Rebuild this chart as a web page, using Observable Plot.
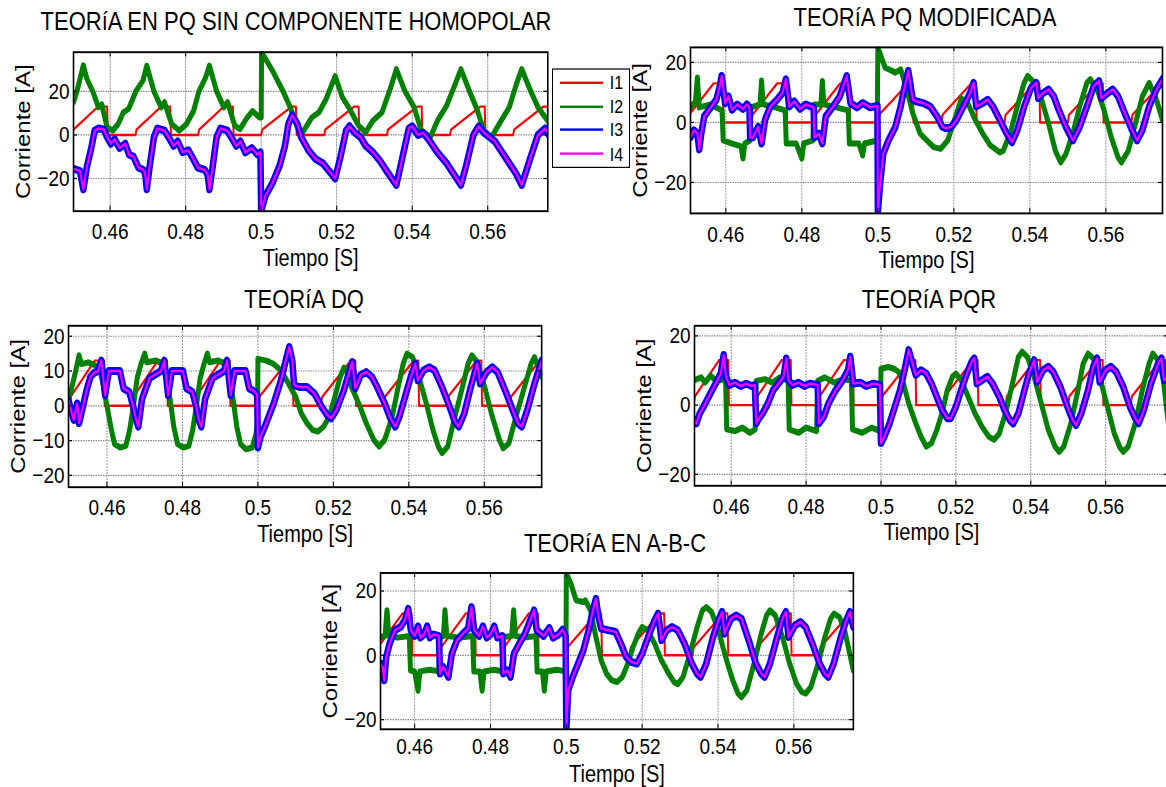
<!DOCTYPE html>
<html>
<head>
<meta charset="utf-8">
<script src="https://cdn.jsdelivr.net/npm/d3@7"></script>
<script src="https://cdn.jsdelivr.net/npm/@observablehq/plot@0.6"></script>
<style>
html, body { margin: 0; padding: 0; background: #fff; width: 1166px; height: 787px; overflow: hidden; }
#fig { position: absolute; left: 0; top: 0; width: 1166px; height: 656px; overflow: hidden;
       transform: scaleY(1.2); transform-origin: 0 0;
       font-family: "Liberation Sans", Arial, Helvetica, sans-serif; color: #000; }
.title { position: absolute; font-size: 22px; line-height: 1; white-space: nowrap; transform: translate(-50%, -50%); }
</style>
</head>
<body>
<div id="fig"></div>
<script>
// ---------------- data ----------------
const xTicks = [0.46, 0.48, 0.5, 0.52, 0.54, 0.56];
const xTickLabels = ["0.46", "0.48", "0.5", "0.52", "0.54", "0.56"];
const seriesNames = ["I1", "I2", "I3", "I4"];
const seriesColors = ["#ff0000", "#008000", "#0000ff", "#ff00ff"];
const titles = ["TEORíA EN PQ SIN COMPONENTE HOMOPOLAR", "TEORíA PQ MODIFICADA", "TEORíA DQ", "TEORíA PQR", "TEORíA EN A-B-C"];
const xLabel = "Tiempo [S]";
const yLabel = "Corriente [A]";

// I1 (red) – same load current in every panel: [time s, current A]
const i1 = [[0.4500,0.5],[0.4503,2.5],[0.4568,13],[0.4592,13],[0.4594,0],
  [0.4667,0],[0.4670,2.5],[0.4735,13],[0.4759,13],[0.4761,0],
  [0.4833,0],[0.4836,2.5],[0.4901,13],[0.4925,13],[0.4927,0],
  [0.5000,0],[0.5003,2.5],[0.5080,13],[0.5092,13],[0.5094,0],
  [0.5167,0],[0.5170,2.5],[0.5246,13],[0.5258,13],[0.5260,0],
  [0.5333,0],[0.5336,2.5],[0.5413,13],[0.5425,13],[0.5427,0],
  [0.5500,0],[0.5503,2.5],[0.5580,13],[0.5592,13],[0.5594,0],
  [0.5667,0],[0.5670,2.5],[0.5747,13],[0.5759,13],[0.5761,0],[0.5770,0]];

// Panel 1 – PQ sin componente homopolar
const p1_i2 = [[0.4503,15],[0.4512,20],[0.4522,27],[0.4529,32],[0.4538,26],[0.4554,20],[0.4569,12.7],[0.4578,14],[0.4592,3.5],[0.4607,2],[0.4621,5],[0.4635,10.4],[0.4649,12],[0.4668,20],[0.4687,25],[0.4697,31.8],[0.4716,20],[0.4735,12.7],[0.4744,15],[0.4763,5],[0.4783,2],[0.4802,5],[0.4821,11],[0.4835,20],[0.4852,26],[0.4863,31.8],[0.4882,20],[0.4901,12.7],[0.4911,15],[0.4930,4.3],[0.4944,2.7],[0.4963,8],[0.4977,11],[0.4996,8],[0.5000,8],[0.5001,38],[0.5030,29.5],[0.5058,20],[0.5077,12.7],[0.5096,3.5],[0.5110,1.2],[0.5134,8],[0.5153,10.4],[0.5172,16.5],[0.5196,27],[0.5215,17.3],[0.5234,12],[0.5258,4.3],[0.5277,1.2],[0.5296,6.6],[0.5320,10.4],[0.5343,21.8],[0.5358,30.2],[0.5381,20],[0.5405,12.7],[0.5424,2],[0.5448,-1],[0.5467,6.6],[0.5491,13.4],[0.5514,23.4],[0.5529,30.2],[0.5552,20],[0.5571,12],[0.5590,2],[0.5610,-1],[0.5633,5.8],[0.5657,12.7],[0.5676,23.4],[0.5690,30.2],[0.5714,20],[0.5733,12.7],[0.5762,5.8]];
const p1_i3 = [[0.4503,-15.5],[0.4520,-16.5],[0.4529,-25],[0.4538,-15],[0.4550,-6],[0.4559,2],[0.4570,3],[0.4583,2.5],[0.4592,-1],[0.4602,-4],[0.4612,-2],[0.4625,-6],[0.4640,-4],[0.4650,-9],[0.4662,-10],[0.4675,-15],[0.4688,-16],[0.4693,-18],[0.4697,-25],[0.4705,-14],[0.4716,-1],[0.4725,3],[0.4744,2],[0.4758,-2],[0.4768,-5],[0.4779,-3],[0.4792,-8],[0.4807,-7],[0.4820,-11],[0.4832,-15],[0.4850,-16],[0.4858,-18],[0.4863,-25],[0.4872,-14],[0.4882,-1],[0.4892,3],[0.4910,2],[0.4924,-2],[0.4934,-5],[0.4945,-3],[0.4958,-8],[0.4975,-6],[0.4990,-9],[0.4998,-8],[0.5000,-35],[0.5011,-28],[0.5030,-22],[0.5049,-14],[0.5063,-5],[0.5072,5],[0.5082,9],[0.5096,5],[0.5106,-1],[0.5125,-7],[0.5144,-11],[0.5163,-13],[0.5182,-17],[0.5196,-20],[0.5210,-10],[0.5225,2],[0.5234,4],[0.5248,1],[0.5263,-1],[0.5277,-5],[0.5296,-8],[0.5315,-12],[0.5334,-17],[0.5358,-23],[0.5372,-12],[0.5391,3],[0.5400,4],[0.5415,0],[0.5429,1],[0.5443,-2],[0.5467,-8],[0.5491,-13],[0.5510,-18],[0.5529,-23],[0.5543,-14],[0.5562,0],[0.5576,4],[0.5590,1],[0.5605,-1],[0.5619,-3],[0.5638,-8],[0.5657,-13],[0.5676,-18],[0.5690,-23],[0.5714,-10],[0.5733,0],[0.5752,3],[0.5762,0]];
const p1_i4 = p1_i3; // magenta follows the centre of the blue band

// Panel 2 – PQ modificada
const p2_i2 = [[0.4507,5],[0.4520,7],[0.4525,15],[0.4530,5],[0.4560,6],[0.4590,4],[0.4593,-6],[0.4615,-7],[0.4640,-8],[0.4645,-12],[0.4650,-7],[0.4663,-6],[0.4666,5],[0.4690,6],[0.4694,14],[0.4698,6],[0.4730,5],[0.4756,4],[0.4759,-7],[0.4785,-7],[0.4800,-12],[0.4805,-7],[0.4829,-6],[0.4832,6],[0.4850,6],[0.4854,13.8],[0.4858,6],[0.4890,5],[0.4922,4],[0.4925,-7],[0.4950,-7],[0.4960,-11],[0.4965,-7],[0.4998,-6],[0.5000,25],[0.5019,18.3],[0.5046,16.6],[0.5060,17.7],[0.5074,12],[0.5092,3],[0.5111,-3.7],[0.5129,-6],[0.5147,-8.2],[0.5165,-8.8],[0.5184,-6],[0.5202,1],[0.5220,8],[0.5238,6],[0.5256,1],[0.5275,-3.5],[0.5295,-7.5],[0.5321,-10],[0.5330,-9.4],[0.5348,-3.7],[0.5367,5.3],[0.5385,13.2],[0.5394,15.5],[0.5412,13.2],[0.5431,7.6],[0.5449,-0.3],[0.5467,-9.4],[0.5481,-13.3],[0.5495,-10.5],[0.5513,-3.7],[0.5531,5.3],[0.5550,13.2],[0.5559,14.4],[0.5577,11],[0.5595,4.2],[0.5614,-4.9],[0.5632,-11.6],[0.5641,-13.3],[0.5659,-9.4],[0.5678,-0.3],[0.5696,8.7],[0.5714,13.2],[0.5733,7.6],[0.5749,0.8]];
const p2_i3 = [[0.4507,-4.9],[0.4516,-2.6],[0.4525,-3.7],[0.4530,-9],[0.4535,-4],[0.4543,2],[0.4562,5.3],[0.4575,7.6],[0.4584,12],[0.4589,15.5],[0.4598,6.4],[0.4607,8.7],[0.4616,4.2],[0.4630,6],[0.4645,4.5],[0.4655,6],[0.4662,5],[0.4664,-5],[0.4671,-5],[0.4685,-1.5],[0.4694,-7],[0.4703,0.8],[0.4717,5.3],[0.4735,7.6],[0.4749,9.8],[0.4758,14.4],[0.4767,5.3],[0.4780,7],[0.4795,4.5],[0.4810,6],[0.4831,5],[0.4833,-5],[0.4845,-3.7],[0.4854,-7],[0.4863,2],[0.4882,5.3],[0.4900,8.7],[0.4918,15.5],[0.4928,6.4],[0.4945,5],[0.4960,6.5],[0.4980,5],[0.4999,5.5],[0.5000,-30],[0.5005,-21.8],[0.5014,-10.5],[0.5028,-6],[0.5046,-1.5],[0.5060,5.3],[0.5069,11],[0.5080,17.2],[0.5092,7.6],[0.5101,7],[0.5120,6.4],[0.5138,5.3],[0.5156,2],[0.5170,-1.5],[0.5179,-2],[0.5193,-1.5],[0.5207,0.8],[0.5225,5.3],[0.5243,9.8],[0.5252,13.2],[0.5259,5.3],[0.5275,6.4],[0.5289,7.6],[0.5303,5.3],[0.5321,0.8],[0.5339,-3.7],[0.5353,-6.6],[0.5367,-2.6],[0.5385,5.3],[0.5403,11.5],[0.5417,13.2],[0.5422,8.1],[0.5435,9.8],[0.5449,11],[0.5463,8.7],[0.5476,4.2],[0.5495,-1.5],[0.5513,-6],[0.5531,-1.5],[0.5550,5.3],[0.5568,12.1],[0.5582,13.8],[0.5588,8.1],[0.5605,9.8],[0.5618,11],[0.5632,8.7],[0.5650,3],[0.5669,-2.6],[0.5682,-6],[0.5696,-2.6],[0.5714,5.3],[0.5733,11],[0.5749,14.4]];
const p2_i4 = p2_i3;

// Panel 3 – DQ
const p3_i2 = [[0.4498,1.6],[0.4507,5.4],[0.4517,10],[0.4526,14.5],[0.4532,12],[0.4550,12.5],[0.4570,11.5],[0.4580,11],[0.4590,6],[0.4600,0],[0.4610,-6],[0.4620,-11],[0.4635,-12],[0.4650,-11.5],[0.4660,-7],[0.4670,0],[0.4680,8],[0.4690,12],[0.4700,15],[0.4705,12.5],[0.4730,13],[0.4750,12],[0.4757,9],[0.4767,2],[0.4777,-6],[0.4787,-11],[0.4802,-12],[0.4817,-11.5],[0.4827,-7],[0.4837,0],[0.4847,8],[0.4857,12],[0.4866,15],[0.4872,12.5],[0.4895,13],[0.4917,12],[0.4924,9],[0.4934,2],[0.4944,-6],[0.4954,-11],[0.4968,-12.5],[0.4985,-12],[0.4995,-8],[0.4999,-5],[0.5000,13.5],[0.5022,13],[0.5042,12],[0.5061,10.2],[0.5081,6.4],[0.5100,2.6],[0.5115,-2.2],[0.5130,-5],[0.5145,-7],[0.5159,-7.4],[0.5174,-6],[0.5189,-3.1],[0.5204,2.6],[0.5218,8.3],[0.5228,11],[0.5235,10],[0.5248,5.4],[0.5267,0.7],[0.5287,-5],[0.5307,-9.8],[0.5321,-11.7],[0.5336,-9.8],[0.5356,-3.1],[0.5370,4.5],[0.5385,12.1],[0.5395,15],[0.5410,14],[0.5424,9.2],[0.5444,1.6],[0.5464,-7],[0.5478,-11.7],[0.5488,-13.6],[0.5503,-11.7],[0.5522,-3.1],[0.5542,5.4],[0.5557,12.1],[0.5567,14.5],[0.5581,12.6],[0.5601,5.4],[0.5621,-3.1],[0.5640,-9.8],[0.5650,-12.2],[0.5665,-10.8],[0.5684,-3.1],[0.5704,4.5],[0.5724,12.1],[0.5733,14],[0.5752,8.3]];
const p3_i3 = [[0.4498,1.6],[0.4507,-2.2],[0.4512,-4.1],[0.4521,0.7],[0.4526,-5],[0.4536,-0.3],[0.4546,4.5],[0.4556,8.3],[0.4566,9.5],[0.4576,10],[0.4585,13],[0.4595,3],[0.4605,10],[0.4634,10],[0.4644,5],[0.4659,4],[0.4669,0],[0.4677,-4],[0.4683,-6],[0.4693,2],[0.4703,5],[0.4713,8],[0.4728,9],[0.4743,10],[0.4752,13],[0.4762,3],[0.4772,10],[0.4801,10],[0.4811,5],[0.4826,4],[0.4836,0],[0.4843,-4],[0.4850,-6],[0.4860,2],[0.4870,5],[0.4880,8],[0.4895,9],[0.4910,10],[0.4918,13],[0.4928,3],[0.4938,10],[0.4967,10],[0.4977,5],[0.4992,4],[0.4998,3],[0.5000,-12],[0.5007,-8.9],[0.5022,-5],[0.5042,0.7],[0.5061,7.3],[0.5076,14],[0.5083,16.9],[0.5091,13],[0.5096,5.9],[0.5110,5.4],[0.5130,5.4],[0.5150,3.5],[0.5169,-0.3],[0.5184,-2.7],[0.5194,-3.6],[0.5208,-1.2],[0.5228,4.5],[0.5243,10.2],[0.5250,12.6],[0.5258,5],[0.5272,8.8],[0.5287,9.7],[0.5302,8.3],[0.5316,5.4],[0.5336,0.7],[0.5351,-3.6],[0.5364,-6],[0.5375,-3.1],[0.5390,2.6],[0.5405,8.3],[0.5417,12.1],[0.5424,7.3],[0.5439,10.2],[0.5454,11.1],[0.5468,10.2],[0.5488,5.4],[0.5508,-0.3],[0.5522,-4.6],[0.5532,-6],[0.5547,-2.2],[0.5562,4.5],[0.5581,12.1],[0.5589,6.4],[0.5606,9.7],[0.5621,11.1],[0.5635,9.7],[0.5655,4.5],[0.5675,-1.2],[0.5689,-5],[0.5699,-6],[0.5714,-1.2],[0.5733,6.4],[0.5752,13]];
const p3_i4 = p3_i3;

// Panel 4 – PQR
const p4_i2 = [[0.4502,7.2],[0.4520,8],[0.4530,6.5],[0.4545,8.5],[0.4560,7],[0.4585,7.5],[0.4588,-7],[0.4610,-7.5],[0.4630,-6.5],[0.4650,-8],[0.4664,-7],[0.4667,7],[0.4690,7.5],[0.4710,6.5],[0.4730,8],[0.4752,7],[0.4755,-7],[0.4780,-8],[0.4800,-6.5],[0.4828,-7.5],[0.4831,7],[0.4850,8],[0.4875,6.5],[0.4900,7.5],[0.4921,7],[0.4924,-7],[0.4950,-8],[0.4975,-6.5],[0.4998,-7.5],[0.5000,10.5],[0.5020,11],[0.5035,10.5],[0.5047,9.6],[0.5060,6.2],[0.5074,0.5],[0.5093,-5.3],[0.5107,-9.1],[0.5121,-12],[0.5135,-11],[0.5149,-7.2],[0.5163,-2.4],[0.5177,4.3],[0.5191,8.2],[0.5200,9.1],[0.5214,7.2],[0.5233,2.4],[0.5251,-2.4],[0.5270,-6.3],[0.5288,-9.1],[0.5302,-10],[0.5316,-8.2],[0.5335,-1.4],[0.5353,7.2],[0.5367,13.9],[0.5377,15.4],[0.5391,13.9],[0.5409,8.2],[0.5428,0.5],[0.5447,-7.2],[0.5465,-12],[0.5476,-13.5],[0.5488,-12],[0.5507,-5.3],[0.5526,4.3],[0.5540,12],[0.5553,14.9],[0.5567,13.5],[0.5586,7.2],[0.5605,-0.5],[0.5623,-8.2],[0.5637,-12],[0.5647,-13.5],[0.5660,-12],[0.5679,-5.3],[0.5698,4.3],[0.5716,12],[0.5726,14.9],[0.5740,13],[0.5753,8.2],[0.5767,-5]];
const p4_i3 = [[0.4502,-4.3],[0.4507,-5.3],[0.4516,-2.4],[0.4526,-0.5],[0.4535,1.4],[0.4549,4.3],[0.4563,7.2],[0.4572,9.1],[0.4580,14.5],[0.4586,8.2],[0.4595,5.8],[0.4610,6.5],[0.4625,5.5],[0.4640,6.2],[0.4655,5.5],[0.4663,5.8],[0.4667,-5.3],[0.4674,-3.8],[0.4684,-2.4],[0.4698,0.5],[0.4712,4.3],[0.4726,6.2],[0.4740,8.2],[0.4747,13.5],[0.4753,7.2],[0.4763,5.8],[0.4780,6.5],[0.4795,5.5],[0.4810,6.2],[0.4831,5.8],[0.4834,-5.3],[0.4847,-3.4],[0.4860,0.5],[0.4879,4.3],[0.4898,7.2],[0.4912,10.1],[0.4918,14],[0.4926,6.2],[0.4945,6.5],[0.4960,5.5],[0.4980,6.2],[0.4997,5.8],[0.5000,-11],[0.5009,-9.1],[0.5023,-5.3],[0.5037,-0.5],[0.5051,4.3],[0.5063,10.1],[0.5074,15.9],[0.5084,12],[0.5093,8.7],[0.5107,10.1],[0.5121,9.1],[0.5135,6.2],[0.5149,2.4],[0.5163,-1.4],[0.5177,-3.8],[0.5186,-3.8],[0.5200,-0.5],[0.5214,4.3],[0.5228,8.7],[0.5242,12.5],[0.5249,13.5],[0.5256,6.2],[0.5270,7.2],[0.5284,8.2],[0.5298,6.2],[0.5316,2.4],[0.5330,-1.4],[0.5344,-4.3],[0.5353,-5.3],[0.5367,-2.4],[0.5381,3.4],[0.5395,9.1],[0.5409,13],[0.5417,6.7],[0.5433,10.1],[0.5447,11.1],[0.5460,9.6],[0.5479,5.3],[0.5498,-0.5],[0.5512,-4.3],[0.5521,-5.8],[0.5535,-2.4],[0.5553,4.3],[0.5567,11.1],[0.5577,13.5],[0.5584,6.7],[0.5600,10.1],[0.5614,11.1],[0.5628,9.6],[0.5647,5.3],[0.5665,-0.5],[0.5679,-3.8],[0.5688,-5.3],[0.5702,-1.4],[0.5721,6.2],[0.5740,12],[0.5749,13.5],[0.5756,7.2],[0.5767,8]];
const p4_i4 = p4_i3;

// Panel 5 – A-B-C
const p5_i2 = [[0.4510,5.7],[0.4522,6],[0.4527,14],[0.4532,6],[0.4555,5.5],[0.4586,6],[0.4589,-4.7],[0.4600,-5],[0.4609,-11],[0.4614,-5],[0.4640,-4.5],[0.4664,-5],[0.4667,5.7],[0.4676,6],[0.4680,14],[0.4685,6],[0.4720,5.5],[0.4753,6],[0.4756,-5],[0.4772,-5],[0.4778,-11],[0.4783,-5],[0.4810,-4.5],[0.4831,-5],[0.4834,5.7],[0.4856,6],[0.4861,14],[0.4866,6],[0.4890,5.5],[0.4920,6],[0.4923,-5],[0.4937,-5],[0.4942,-11],[0.4947,-5],[0.4975,-4.5],[0.4999,-5],[0.5000,25.6],[0.5012,22.3],[0.5026,17.1],[0.5045,16.6],[0.5050,17.1],[0.5064,14],[0.5078,5.7],[0.5092,-1.6],[0.5106,-5.7],[0.5120,-7.8],[0.5134,-8.3],[0.5148,-6.7],[0.5162,-2.6],[0.5176,2.6],[0.5190,6.7],[0.5200,8.8],[0.5214,7.8],[0.5233,3.6],[0.5251,-1.6],[0.5270,-5.7],[0.5284,-8.3],[0.5294,-9],[0.5308,-6.7],[0.5326,0.5],[0.5345,8.8],[0.5359,14],[0.5369,15],[0.5383,13.5],[0.5401,7.8],[0.5420,-0.5],[0.5439,-7.8],[0.5453,-11.9],[0.5462,-13],[0.5476,-10.9],[0.5495,-2.6],[0.5514,6.7],[0.5528,12.4],[0.5537,14],[0.5551,12.4],[0.5570,5.7],[0.5589,-2.6],[0.5607,-8.8],[0.5621,-11.4],[0.5631,-11.9],[0.5645,-9.8],[0.5664,-2.6],[0.5682,5.7],[0.5697,11.4],[0.5706,13],[0.5720,11.9],[0.5734,7.8],[0.5757,-4.7]];
const p5_i3 = [[0.4510,-2.6],[0.4516,-4.1],[0.4520,-7.8],[0.4525,-0.5],[0.4534,3.6],[0.4548,7.8],[0.4563,8.8],[0.4574,10.9],[0.4583,14.5],[0.4590,7.8],[0.4600,6],[0.4609,9],[0.4615,5.5],[0.4625,6.5],[0.4633,9],[0.4640,5.5],[0.4650,6.5],[0.4664,6],[0.4667,-5.7],[0.4675,-3.6],[0.4689,-6.7],[0.4698,0.5],[0.4712,4.7],[0.4727,6.7],[0.4741,8.3],[0.4750,15],[0.4757,7.8],[0.4770,6],[0.4780,9],[0.4790,5.5],[0.4800,6.5],[0.4810,9],[0.4818,5.5],[0.4831,6],[0.4834,-5.7],[0.4844,-4.7],[0.4853,-6.7],[0.4862,0.5],[0.4876,3.6],[0.4891,6.7],[0.4905,10.9],[0.4915,14],[0.4922,7.8],[0.4940,6],[0.4955,8.5],[0.4965,5.5],[0.4980,6.5],[0.4990,8],[0.4998,6],[0.5000,-23],[0.5005,-10.9],[0.5017,-6.7],[0.5031,-2.6],[0.5045,1.6],[0.5059,7.8],[0.5070,14],[0.5078,17.6],[0.5085,11.9],[0.5092,8.3],[0.5111,7.8],[0.5130,7.3],[0.5144,3.6],[0.5158,-0.5],[0.5172,-2.1],[0.5186,-2.6],[0.5200,0.5],[0.5219,6.7],[0.5233,10.9],[0.5242,13],[0.5251,4.7],[0.5265,7.8],[0.5279,8.8],[0.5294,7.8],[0.5312,3.6],[0.5331,-2.6],[0.5345,-5.7],[0.5354,-6.7],[0.5369,-2.6],[0.5387,5.7],[0.5401,10.9],[0.5411,13.5],[0.5417,6.7],[0.5434,11.4],[0.5448,12.4],[0.5462,11.4],[0.5481,4.7],[0.5500,-2.6],[0.5514,-5.7],[0.5523,-6.7],[0.5537,-2.6],[0.5556,5.7],[0.5570,11.4],[0.5579,13.5],[0.5586,5.7],[0.5603,9.3],[0.5617,10.4],[0.5631,8.8],[0.5649,3.6],[0.5668,-2.6],[0.5682,-5.7],[0.5691,-6.7],[0.5705,-2.6],[0.5724,5.7],[0.5738,10.9],[0.5748,13.5],[0.5757,8.8]];
const p5_i4 = p5_i3;

// axes per panel
const yTicksA = [-20, 0, 20];
const yTicksB = [-20, -10, 0, 10, 20];
const xDomains = [[0.4503, 0.5759], [0.4507, 0.5749], [0.4498, 0.5752], [0.4502, 0.5767], [0.4510, 0.5757]];
const yDomains = [[-35, 38], [-30.3, 25], [-23.4, 23], [-23.3, 22.9], [-23, 25.6]];

// ---------------- layout ----------------
const S = 1.2; // vertical stretch of the whole figure
const M = {left: 70, right: 6, top: 6, bottom: 58};
const FONT = '"Liberation Sans", Arial, Helvetica, sans-serif';
const fig = document.getElementById("fig");

const panels = [
  {L: 73, R: 547.3, T: 51.7, B: 210.7, yTicks: yTicksA, series: [i1, p1_i2, p1_i3, p1_i4], title: [296, 22], xl: 39, tp: 10},
  {L: 690, R: 1162, T: 47.3, B: 213.3, yTicks: yTicksA, series: [i1, p2_i2, p2_i3, p2_i4], title: [925, 18], xl: 39, tp: 10},
  {L: 68.3, R: 541.5, T: 325.3, B: 486.7, yTicks: yTicksB, series: [i1, p3_i2, p3_i3, p3_i4], title: [304, 300], xl: 39, tp: 10},
  {L: 694.3, R: 1168, T: 325.7, B: 485.7, yTicks: yTicksA, series: [i1, p4_i2, p4_i3, p4_i4], title: [929, 300], xl: 39, tp: 10},
  {L: 380, R: 852.9, T: 572.7, B: 729, yTicks: yTicksA, series: [i1, p5_i2, p5_i3, p5_i4], title: [615, 544], xl: 37.6, tp: 7.5}
];
const widths = [2, 5, 6.5, 2];

panels.forEach((p, k) => {
  const top = p.T / S, bottom = p.B / S;
  const innerW = p.R - p.L, innerH = bottom - top;
  const lineMarks = p.series.map((data, j) => Plot.line(data, {
    x: d => d[0], y: d => d[1], stroke: seriesColors[j], strokeWidth: widths[j],
    strokeLinejoin: "round", clip: true
  }));
  const svg = Plot.plot({
    width: innerW + M.left + M.right,
    height: innerH + M.top + M.bottom,
    marginLeft: M.left, marginRight: M.right, marginTop: M.top, marginBottom: M.bottom,
    style: {background: "transparent", overflow: "visible", maxWidth: "none", fontFamily: FONT, fontSize: "19px", color: "#000"},
    x: {domain: xDomains[k]},
    y: {domain: yDomains[k]},
    marks: [
      Plot.gridX(xTicks, {stroke: "#8a8a8a", strokeOpacity: 1, strokeWidth: 1, strokeDasharray: "1.5,1"}),
      Plot.gridY(p.yTicks, {stroke: "#8a8a8a", strokeOpacity: 1, strokeWidth: 1, strokeDasharray: "1.5,1"}),
      ...lineMarks,
      Plot.frame({stroke: "#000", strokeWidth: 1.6}),
      Plot.tickX(xTicks, {x: d => d, insetTop: innerH - 4, stroke: "#000"}),
      Plot.tickX(xTicks, {x: d => d, insetBottom: innerH - 4, stroke: "#000"}),
      Plot.tickY(p.yTicks, {y: d => d, insetRight: innerW - 4, stroke: "#000"}),
      Plot.tickY(p.yTicks, {y: d => d, insetLeft: innerW - 4, stroke: "#000"}),
      Plot.axisX(xTicks, {tickSize: 0, tickPadding: p.tp, fontSize: 19, label: null,
        tickFormat: d => xTickLabels[xTicks.indexOf(d)]}),
      Plot.axisY(p.yTicks, {tickSize: 0, tickPadding: 4, fontSize: 19, label: null}),
      Plot.text([xLabel], {text: d => d, frameAnchor: "bottom", dy: p.xl, fontSize: 20, textAnchor: "middle", lineAnchor: "middle"}),
      Plot.text([yLabel], {text: d => d, frameAnchor: "left", dx: -50, rotate: -90, fontSize: 20, textAnchor: "middle", lineAnchor: "middle"})
    ]
  });
  svg.style.position = "absolute";
  svg.style.left = (p.L - M.left) + "px";
  svg.style.top = (top - M.top) + "px";
  fig.appendChild(svg);

  const t = document.createElement("div");
  t.className = "title";
  t.textContent = titles[k];
  t.style.left = p.title[0] + "px";
  t.style.top = (p.title[1] / S) + "px";
  fig.appendChild(t);
});

// legend (panel 1)
const lg = document.createElement("div");
lg.style.cssText = `position:absolute;left:551.7px;top:${68.3 / S}px;width:78.3px;height:${(167.7 - 68.3) / S}px;` +
  `border:1.5px solid #000;background:#fff;box-sizing:border-box;`;
const rowY = [13.4, 37.7, 60.4, 85];
seriesNames.forEach((name, j) => {
  const ln = document.createElement("div");
  ln.style.cssText = `position:absolute;left:7px;width:43px;height:2px;top:${rowY[j] / S - 1.5}px;background:${seriesColors[j]};`;
  const tx = document.createElement("div");
  tx.style.cssText = `position:absolute;left:57px;top:${rowY[j] / S}px;transform:translateY(-50%);font-size:16px;line-height:1;`;
  tx.textContent = name;
  lg.appendChild(ln);
  lg.appendChild(tx);
});
fig.appendChild(lg);
</script>
</body>
</html>
